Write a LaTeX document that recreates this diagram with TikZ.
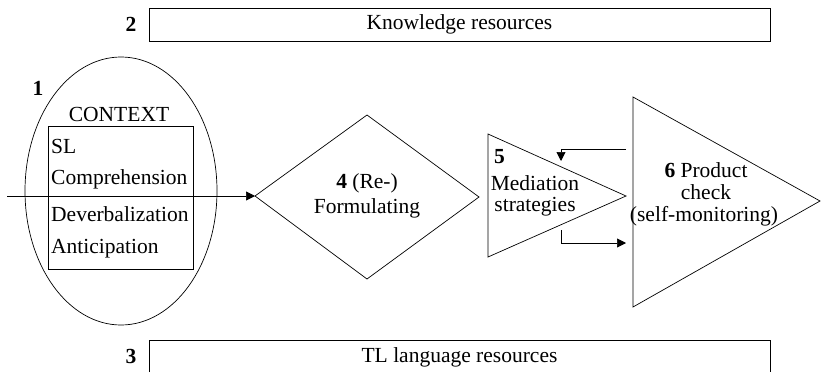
\documentclass[tikz,border=0pt]{standalone}
\usepackage{fontspec}
\setmainfont{Liberation Serif}
\usetikzlibrary{arrows.meta,shapes.geometric}
\begin{document}
\begin{tikzpicture}[x=1pt,y=-1pt,
  every node/.style={font=\fontsize{21.5}{25}\selectfont, inner sep=0pt},
  shp/.style={draw=black, line width=0.7pt},
  conn/.style={draw=black, line width=0.7pt, -{Triangle[length=9pt,width=9pt]}},
  lbl/.style={anchor=west},
  num/.style={font=\fontsize{21.5}{25}\selectfont\bfseries}]
\useasboundingbox (0,0) rectangle (821,372);
% resource boxes
\node[shp, minimum width=621pt, minimum height=33pt] (kr) at (459.5,24.5) {Knowledge resources};
\node[num] (n2) at (131,24) {2};
\coordinate (tlA) at (149,372);
\coordinate (tlB) at (149,340);
\coordinate (tlC) at (770,340);
\coordinate (tlD) at (770,372);
\draw[shp] (tlA) -- (tlB) -- (tlC) -- (tlD);
\node (tl) at (459.5,357) {TL language resources};
\node[num] (n3) at (131,356) {3};
% context ellipse
\node[shp, ellipse, minimum width=192pt, minimum height=268pt] (ctx) at (121,191) {};
\node[num] (n1) at (38,88) {1};
\node (ctxt) at (119,114) {CONTEXT};
\node[shp, minimum width=145pt, minimum height=143pt] (box) at (120.5,197.5) {};
\node[lbl] (sl) at (51,146) {SL};
\node[lbl] (comp) at (51,179) {Comprehension};
\node[lbl] (dev) at (51,214) {Deverbalization};
\node[lbl] (ant) at (51,249) {Anticipation};
% diamond
\coordinate (dW) at (255,196);
\coordinate (dN) at (367,115);
\coordinate (dE) at (479,197);
\coordinate (dS) at (367,279);
\draw[shp] (dW) -- (dN) -- (dE) -- (dS) -- cycle;
\node (f1) at (367,183) {\textbf{4} (Re-)};
\node (f2) at (367,208) {Formulating};
\coordinate (in) at (7,196);
\draw[conn] (in) -- (dW);
% triangle 5
\coordinate (t5a) at (488,134);
\coordinate (t5b) at (488,257);
\coordinate (t5c) at (626,196);
\draw[shp] (t5a) -- (t5c) -- (t5b) -- cycle;
\node[num, anchor=west] (n5) at (494,157) {5};
\node (m1) at (535,183) {Mediation};
\node (m2) at (535,207) {strategies};
% triangle 6
\coordinate (t6a) at (633,97);
\coordinate (t6b) at (633,307);
\coordinate (t6c) at (820,201);
\draw[shp] (t6a) -- (t6c) -- (t6b) -- cycle;
\node (p1) at (706,170) {\textbf{6} Product};
\node (p2) at (706,192) {check};
\node (p3) at (704,216) {(self-monitoring)};
% feedback arrows
\coordinate (fbA) at (626,149);
\coordinate (fbB) at (561,149);
\coordinate (fbC) at (561,161);
\draw[conn] (fbA) -- (fbB) -- (fbC);
\coordinate (ffA) at (561,230);
\coordinate (ffB) at (561,243);
\coordinate (ffC) at (626,243);
\draw[conn] (ffA) -- (ffB) -- (ffC);
\end{tikzpicture}
\end{document}
